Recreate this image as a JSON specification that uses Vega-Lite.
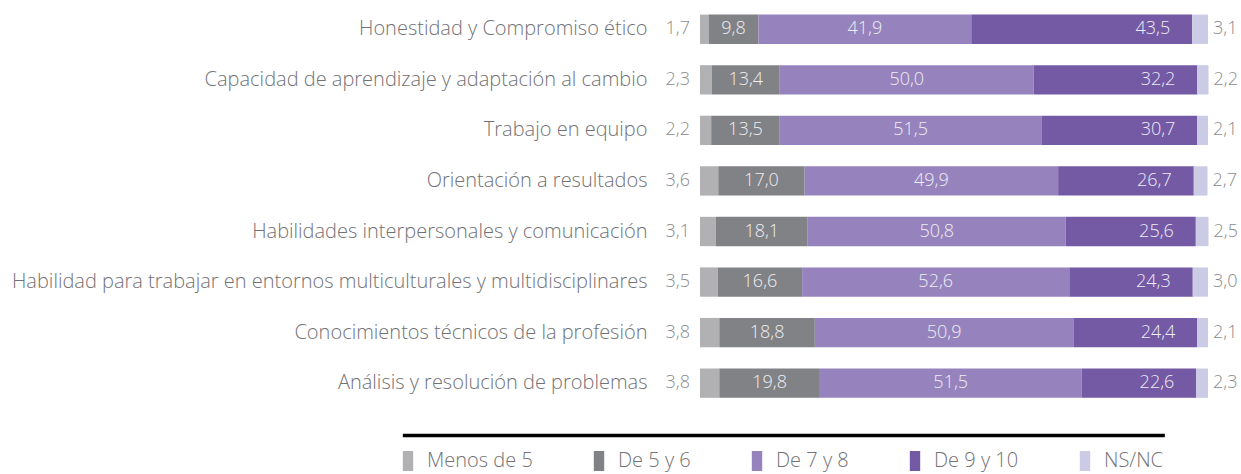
{
  "$schema": "https://vega.github.io/schema/vega-lite/v6.json",
  "autosize": {"type": "none"},
  "width": 508,
  "height": 455,
  "padding": {"left": 700, "top": 4, "right": 33, "bottom": 15},
  "config": {
    "view": {"stroke": null},
    "font": "Open Sans",
    "locale": {"number": {"decimal": ",", "thousands": ".", "grouping": [3], "currency": ["", " €"]}}
  },
  "datasets": {
    "main": [
      {"cat": "Honestidad y  Compromiso ético", "grp": "Menos de 5", "k": 1, "v": 1.7},
      {"cat": "Honestidad y  Compromiso ético", "grp": "De 5 y 6", "k": 2, "v": 9.8},
      {"cat": "Honestidad y  Compromiso ético", "grp": "De 7 y 8", "k": 3, "v": 41.9},
      {"cat": "Honestidad y  Compromiso ético", "grp": "De 9 y 10", "k": 4, "v": 43.5},
      {"cat": "Honestidad y  Compromiso ético", "grp": "NS/NC", "k": 5, "v": 3.1},
      {"cat": "Capacidad de aprendizaje y adaptación al cambio", "grp": "Menos de 5", "k": 1, "v": 2.3},
      {"cat": "Capacidad de aprendizaje y adaptación al cambio", "grp": "De 5 y 6", "k": 2, "v": 13.4},
      {"cat": "Capacidad de aprendizaje y adaptación al cambio", "grp": "De 7 y 8", "k": 3, "v": 50.0},
      {"cat": "Capacidad de aprendizaje y adaptación al cambio", "grp": "De 9 y 10", "k": 4, "v": 32.2},
      {"cat": "Capacidad de aprendizaje y adaptación al cambio", "grp": "NS/NC", "k": 5, "v": 2.2},
      {"cat": "Trabajo en equipo", "grp": "Menos de 5", "k": 1, "v": 2.2},
      {"cat": "Trabajo en equipo", "grp": "De 5 y 6", "k": 2, "v": 13.5},
      {"cat": "Trabajo en equipo", "grp": "De 7 y 8", "k": 3, "v": 51.5},
      {"cat": "Trabajo en equipo", "grp": "De 9 y 10", "k": 4, "v": 30.7},
      {"cat": "Trabajo en equipo", "grp": "NS/NC", "k": 5, "v": 2.1},
      {"cat": "Orientación a resultados", "grp": "Menos de 5", "k": 1, "v": 3.6},
      {"cat": "Orientación a resultados", "grp": "De 5 y 6", "k": 2, "v": 17.0},
      {"cat": "Orientación a resultados", "grp": "De 7 y 8", "k": 3, "v": 49.9},
      {"cat": "Orientación a resultados", "grp": "De 9 y 10", "k": 4, "v": 26.7},
      {"cat": "Orientación a resultados", "grp": "NS/NC", "k": 5, "v": 2.7},
      {"cat": "Habilidades  interpersonales y comunicación", "grp": "Menos de 5", "k": 1, "v": 3.1},
      {"cat": "Habilidades  interpersonales y comunicación", "grp": "De 5 y 6", "k": 2, "v": 18.1},
      {"cat": "Habilidades  interpersonales y comunicación", "grp": "De 7 y 8", "k": 3, "v": 50.8},
      {"cat": "Habilidades  interpersonales y comunicación", "grp": "De 9 y 10", "k": 4, "v": 25.6},
      {"cat": "Habilidades  interpersonales y comunicación", "grp": "NS/NC", "k": 5, "v": 2.5},
      {"cat": "Habilidad para trabajar en entornos multiculturales y multidisciplinares", "grp": "Menos de 5", "k": 1, "v": 3.5},
      {"cat": "Habilidad para trabajar en entornos multiculturales y multidisciplinares", "grp": "De 5 y 6", "k": 2, "v": 16.6},
      {"cat": "Habilidad para trabajar en entornos multiculturales y multidisciplinares", "grp": "De 7 y 8", "k": 3, "v": 52.6},
      {"cat": "Habilidad para trabajar en entornos multiculturales y multidisciplinares", "grp": "De 9 y 10", "k": 4, "v": 24.3},
      {"cat": "Habilidad para trabajar en entornos multiculturales y multidisciplinares", "grp": "NS/NC", "k": 5, "v": 3.0},
      {"cat": "Conocimientos técnicos de la profesión", "grp": "Menos de 5", "k": 1, "v": 3.8},
      {"cat": "Conocimientos técnicos de la profesión", "grp": "De 5 y 6", "k": 2, "v": 18.8},
      {"cat": "Conocimientos técnicos de la profesión", "grp": "De 7 y 8", "k": 3, "v": 50.9},
      {"cat": "Conocimientos técnicos de la profesión", "grp": "De 9 y 10", "k": 4, "v": 24.4},
      {"cat": "Conocimientos técnicos de la profesión", "grp": "NS/NC", "k": 5, "v": 2.1},
      {"cat": "Análisis y resolución de problemas", "grp": "Menos de 5", "k": 1, "v": 3.8},
      {"cat": "Análisis y resolución de problemas", "grp": "De 5 y 6", "k": 2, "v": 19.8},
      {"cat": "Análisis y resolución de problemas", "grp": "De 7 y 8", "k": 3, "v": 51.5},
      {"cat": "Análisis y resolución de problemas", "grp": "De 9 y 10", "k": 4, "v": 22.6},
      {"cat": "Análisis y resolución de problemas", "grp": "NS/NC", "k": 5, "v": 2.3}
    ],
    "line": [{"a": -58.5, "b": 91.5, "row": " "}]
  },
  "resolve": {"scale": {"x": "shared", "y": "shared"}},
  "layer": [
    {
      "data": {"name": "main"},
      "transform": [
        {"stack": "v", "groupby": ["cat"], "sort": [{"field": "k", "order": "ascending"}], "as": ["x0", "x1"]},
        {"calculate": "(datum.x0 + datum.x1) / 2", "as": "mid"}
      ],
      "encoding": {
        "y": {
          "field": "cat", "type": "nominal",
          "scale": {
            "domain": [
              "Honestidad y  Compromiso ético",
              "Capacidad de aprendizaje y adaptación al cambio",
              "Trabajo en equipo",
              "Orientación a resultados",
              "Habilidades  interpersonales y comunicación",
              "Habilidad para trabajar en entornos multiculturales y multidisciplinares",
              "Conocimientos técnicos de la profesión",
              "Análisis y resolución de problemas",
              " "
            ],
            "paddingInner": 0.42, "paddingOuter": 0.21
          },
          "axis": {
            "title": null, "domain": false, "ticks": false, "labelPadding": 53,
            "labelFontSize": 20, "labelColor": "#727275", "labelFont": "Open Sans", "labelFontWeight": 300,
            "labelLimit": 900
          }
        }
      },
      "layer": [
        {
          "mark": {"type": "bar"},
          "encoding": {
            "x": {"field": "x0", "type": "quantitative", "scale": {"domain": [0, 100], "nice": false, "zero": false}, "axis": null},
            "x2": {"field": "x1"},
            "color": {
              "field": "grp", "type": "nominal",
              "scale": {
                "domain": ["Menos de 5", "De 5 y 6", "De 7 y 8", "De 9 y 10", "NS/NC"],
                "range": ["#b1b1b4", "#818285", "#9683bd", "#7459a5", "#cccbe5"]
              },
              "legend": {
                "title": null, "orient": "none", "direction": "horizontal",
                "legendX": -302, "legendY": 447,
                "columnPadding": 56, "labelFontSize": 20, "labelColor": "#727275",
                "labelFont": "Open Sans", "labelFontWeight": 300, "labelOffset": 9,
                "symbolType": "M-0.52,-1H0.52V1H-0.52Z", "symbolSize": 400,
                "symbolStrokeWidth": 0, "symbolOpacity": 1, "labelLimit": 300
              }
            }
          }
        },
        {
          "transform": [{"filter": "datum.k == 2 || datum.k == 3"}],
          "mark": {"type": "text", "align": "center", "baseline": "middle", "fontSize": 18, "fontWeight": 300, "color": "#eeedf3"},
          "encoding": {
            "x": {"field": "mid", "type": "quantitative"},
            "text": {"field": "v", "type": "quantitative", "format": ".1f"}
          }
        },
        {
          "transform": [{"filter": "datum.k == 4"}],
          "mark": {"type": "text", "align": "right", "baseline": "middle", "dx": -22, "fontSize": 18, "fontWeight": 300, "color": "#eeedf3"},
          "encoding": {
            "x": {"field": "x1", "type": "quantitative"},
            "text": {"field": "v", "type": "quantitative", "format": ".1f"}
          }
        },
        {
          "transform": [{"filter": "datum.k == 1"}],
          "mark": {"type": "text", "align": "right", "baseline": "middle", "dx": -10, "fontSize": 18, "fontWeight": 300, "color": "#8a8b8e"},
          "encoding": {
            "x": {"field": "x0", "type": "quantitative"},
            "text": {"field": "v", "type": "quantitative", "format": ".1f"}
          }
        },
        {
          "transform": [{"filter": "datum.k == 5"}],
          "mark": {"type": "text", "align": "left", "baseline": "middle", "dx": 5, "fontSize": 18, "fontWeight": 300, "color": "#8a8b8e"},
          "encoding": {
            "x": {"field": "x1", "type": "quantitative"},
            "text": {"field": "v", "type": "quantitative", "format": ".1f"}
          }
        }
      ]
    },
    {
      "data": {"name": "line"},
      "mark": {"type": "rule", "color": "#000000", "strokeWidth": 3.5, "clip": false},
      "encoding": {
        "x": {"field": "a", "type": "quantitative"},
        "x2": {"field": "b"},
        "y": {"field": "row", "type": "nominal", "bandPosition": 0.56}
      }
    }
  ]
}
